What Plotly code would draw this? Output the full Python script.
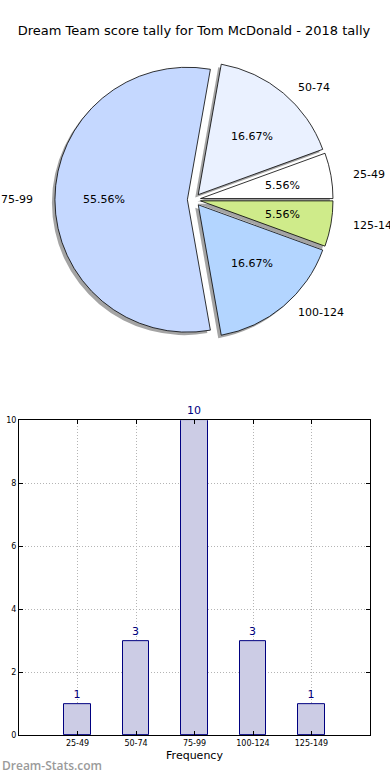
import numpy as np
import plotly.graph_objects as go

title = "Dream Team score tally for Tom McDonald - 2018 tally"
categories = ["25-49", "50-74", "75-99", "100-124", "125-149"]
counts = [1, 3, 10, 3, 1]
pie_colors = ["#FFFFFF", "#EAF1FF", "#C5D8FF", "#B3D5FF", "#CFEB8A"]

W, H = 390, 780

def fx(px):
    return px / W

def fy(py):
    return 1 - py / H

# pie geometry (reference pixels)
R = 134.0
PULL = 0.05
CX, CY = 194.0, 198.0
RX, RY = 138.5, 129.0  # text placement radii
outer = R * (1 + PULL)

def dom(cx, cy):
    return dict(x=[fx(cx - outer), fx(cx + outer)], y=[fy(cy + outer), fy(cy - outer)])

fig = go.Figure()

# shadow
fig.add_trace(go.Pie(
    labels=categories, values=counts, sort=False, direction="counterclockwise",
    rotation=70, pull=[PULL] * len(counts), domain=dom(CX - 3, CY + 3),
    marker=dict(colors=["rgba(90,90,90,0.55)"] * len(counts), line=dict(width=0)),
    textinfo="none", hoverinfo="skip", showlegend=False))

fig.add_trace(go.Pie(
    labels=categories, values=counts, sort=False, direction="counterclockwise",
    rotation=70, pull=[PULL] * len(counts), domain=dom(CX, CY),
    marker=dict(colors=pie_colors, line=dict(color="#000000", width=0.8)),
    textinfo="none", showlegend=False))

# labels and percentages (matplotlib-like labeldistance 1.1, pctdistance 0.6)
vals = np.array(counts, dtype=float)
pct = vals / vals.sum() * 100
cum = np.cumsum(vals) / vals.sum() * 360
starts = np.concatenate([[0], cum[:-1]])
mids = np.deg2rad((starts + cum) / 2)
for lab, p, a in zip(categories, pct, mids):
    c, s = np.cos(a), np.sin(a)
    lx = CX + RX * (1.1 + PULL) * c
    ly = CY - RY * (1.1 + PULL) * s
    fig.add_annotation(x=fx(lx), y=fy(ly), xref="paper", yref="paper",
                       text=lab, showarrow=False,
                       xanchor="left" if c > 0 else "right", yanchor="middle",
                       font=dict(family="DejaVu Sans", size=11, color="#000000"))
    tx = CX + RX * (0.6 + PULL) * c
    ty = CY - RY * (0.6 + PULL) * s
    fig.add_annotation(x=fx(tx), y=fy(ty), xref="paper", yref="paper",
                       text=f"{p:.2f}%", showarrow=False,
                       xanchor="center", yanchor="middle",
                       font=dict(family="DejaVu Sans", size=11, color="#000000"))

x_pos = list(range(1, len(categories) + 1))
fig.add_trace(go.Bar(
    x=x_pos, y=counts, width=0.45, xaxis="x", yaxis="y",
    marker=dict(color="#CCCCE5", line=dict(color="#000080", width=1)),
    text=[str(c) for c in counts], textposition="outside", cliponaxis=False,
    textfont=dict(family="DejaVu Sans", size=11, color="#000080"),
    showlegend=False))

axis_common = dict(showline=True, linecolor="#000000", linewidth=1, mirror="ticks",
                   ticks="inside", ticklen=4, tickcolor="#000000",
                   showgrid=True, gridcolor="#B4B4B4", griddash="1px,2px", gridwidth=1,
                   zeroline=False, tickfont=dict(family="DejaVu Sans", size=8, color="#000000"))

fig.update_layout(
    width=W, height=H, margin=dict(l=0, r=0, t=0, b=0),
    paper_bgcolor="#FFFFFF", plot_bgcolor="#FFFFFF",
    title=dict(text=title, x=fx(194), xanchor="center", y=fy(30), yanchor="middle",
               font=dict(family="DejaVu Sans", size=13, color="#000000")),
    xaxis=dict(domain=[fx(19), fx(370)], range=[0, 6], tickvals=x_pos, ticktext=categories,
               anchor="y",
               title=dict(text="Frequency", standoff=4,
                          font=dict(family="DejaVu Sans", size=11, color="#000000")),
               **axis_common),
    yaxis=dict(domain=[fy(740), fy(421)], range=[0, 10], dtick=2, anchor="x",
               **axis_common),
    bargap=0,
)

fig.add_annotation(x=fx(0), y=fy(770), xref="paper", yref="paper", text="Dream-Stats.com",
                   showarrow=False, xanchor="left", yanchor="middle", xshift=0,
                   font=dict(family="Open Sans", size=12, weight=600, color="#9A9A9A"))

fig.write_html("out.html", config={"displayModeBar": False},
               post_script="document.body.style.margin='0px';")
